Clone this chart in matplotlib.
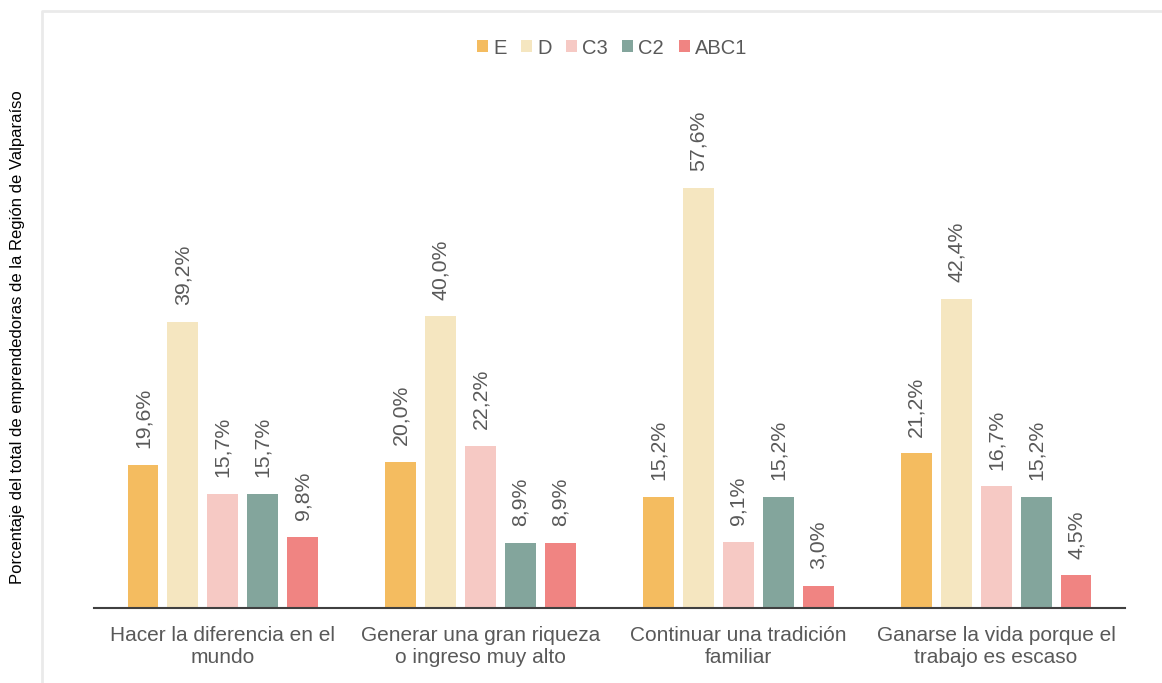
import matplotlib
matplotlib.use("Agg")
import matplotlib.pyplot as plt
from matplotlib.patches import Patch
from matplotlib.lines import Line2D
import numpy as np

plt.rcParams['font.family'] = ['Liberation Sans', 'DejaVu Sans']

categories = [
    "Hacer la diferencia en el\nmundo",
    "Generar una gran riqueza\no ingreso muy alto",
    "Continuar una tradición\nfamiliar",
    "Ganarse la vida porque el\ntrabajo es escaso",
]
series_names = ["E", "D", "C3", "C2", "ABC1"]
values_E = [19.6, 20.0, 15.2, 21.2]
values_D = [39.2, 40.0, 57.6, 42.4]
values_C3 = [15.7, 22.2, 9.1, 16.7]
values_C2 = [15.7, 8.9, 15.2, 15.2]
values_ABC1 = [9.8, 8.9, 3.0, 4.5]
colors = ["#F4BC60", "#F5E6C0", "#F6C9C4", "#83A59C", "#F08482"]

series = [values_E, values_D, values_C3, values_C2, values_ABC1]
text_color = "#595959"

fig = plt.figure(figsize=(11.62, 6.83), dpi=100)
ax = fig.add_axes([94 / 1162, 1 - 608 / 683, (1125 - 94) / 1162, (608 - 80) / 683])

x = np.arange(len(categories))
step = 0.155
width = 0.12
for i, (name, vals, col) in enumerate(zip(series_names, series, colors)):
    pos = x + (i - 2) * step
    ax.bar(pos, vals, width=width, color=col, label=name, zorder=2)
    for p, v in zip(pos, vals):
        ax.annotate(f"{v:.1f}%".replace(".", ","), (p, v),
                    xytext=(0, 12), textcoords="offset points",
                    rotation=90, ha="center", va="bottom",
                    fontsize=15.3, color=text_color)

ax.set_xlim(-0.5, len(categories) - 0.5)
ax.set_ylim(0, 72.4)
ax.set_xticks(x)
ax.set_xticklabels(categories, fontsize=15, color=text_color, linespacing=1.2)
ax.tick_params(axis="x", length=0, pad=13)
ax.set_yticks([])
for s in ["top", "right", "left"]:
    ax.spines[s].set_visible(False)
ax.spines["bottom"].set_color("#404040")
ax.spines["bottom"].set_linewidth(1.5)

handles = [Patch(facecolor=c, edgecolor="none", label=n) for n, c in zip(series_names, colors)]
fig.legend(handles=handles, loc="center", bbox_to_anchor=(612 / 1162, 1 - 48 / 683),
           ncol=5, frameon=False, fontsize=14.5, handlelength=0.55, handleheight=0.55,
           handletextpad=0.25, columnspacing=0.72, labelcolor=text_color)

fig.text(18 / 1162, 1 - 337 / 683,
         "Porcentaje del total de emprendedoras de la Región de Valparaíso",
         rotation=90, ha="center", va="center", fontsize=12, color="#000000")

# light outer frame along the top and left
fx = 42 / 1162
fy = 1 - 11 / 683
fig.add_artist(Line2D([fx, fx, 1.0], [0.0, fy, fy], transform=fig.transFigure,
                      color="#EAEAEA", linewidth=2))

fig.savefig("out.png", dpi=100, facecolor="white")
